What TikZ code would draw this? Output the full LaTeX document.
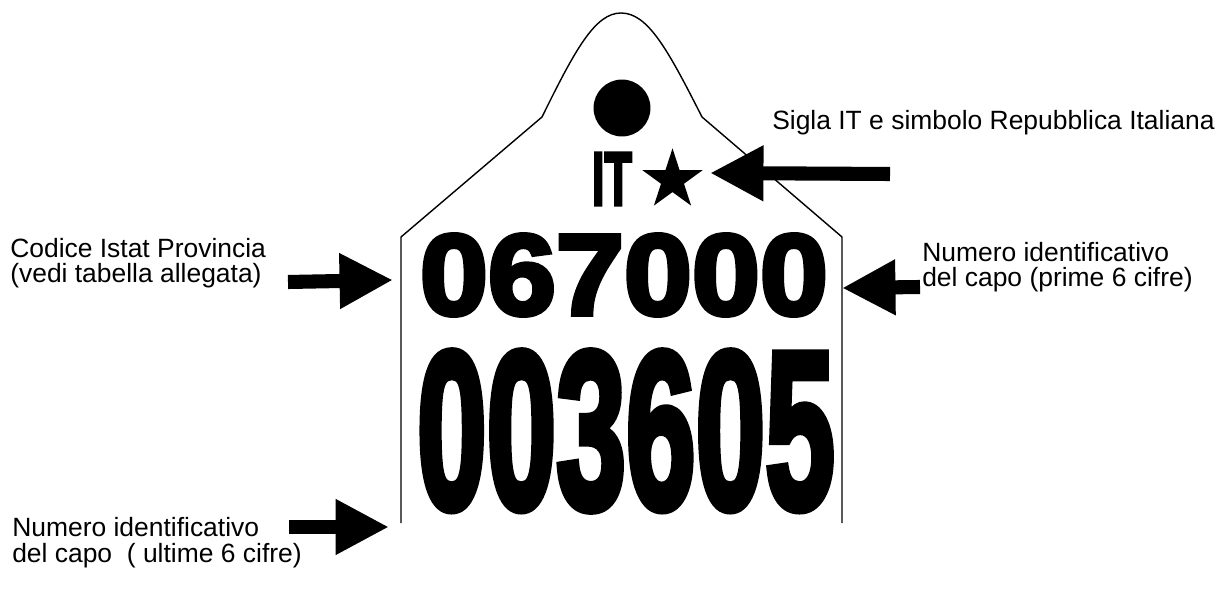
\documentclass[tikz,border=0pt]{standalone}
\usepackage{fontspec}
\setmainfont{Liberation Sans}
\newfontfamily\tagfont[FakeBold=4]{Liberation Sans}
\usetikzlibrary{arrows.meta,shapes.geometric}

\begin{document}
\begin{tikzpicture}[
        x=0.025cm, y=-0.025cm,
        didascalia/.style={anchor=base west, inner sep=0pt, align=left, font=\fontsize{18.8}{17.8}\selectfont},
        cifre/.style={inner sep=0pt},
        bigarrow/.style={line width=10pt, -{Triangle[length=38pt,width=37pt]}},
        tagline/.style={line width=1pt, line join=round}
    ]
    \useasboundingbox (0,0) rectangle (1216,609);

    \draw[tagline] (401,523) -- (401,237) -- (542,117)
        .. controls (575,50) and (595,13) .. (621,13)
        .. controls (648,13) and (668,50) .. (702,117) -- (842,237) -- (842,523);

    \node[circle, fill, minimum size=40.5pt, inner sep=0pt] (foro) at (622,108) {};
    \node[cifre] (sigla) at (612,179) {\resizebox{28.5pt}{37pt}{\tagfont\bfseries IT}};
    \node[star, star points=5, star point ratio=2.618, minimum size=45pt, inner sep=0pt, fill] (stella) at (672.5,180) {};
    \node[cifre] (prime) at (624,275) {\resizebox{290pt}{57pt}{\tagfont\bfseries 067000}};
    \node[cifre] (ultime) at (626,431) {\resizebox{297pt}{111pt}{\tagfont\bfseries 003605}};

    \node[didascalia] (notasigla) at (772,130) {Sigla IT e simbolo Repubblica Italiana};
    \node[didascalia] (notacodice) at (10,283) {Codice Istat Provincia\\(vedi tabella allegata)};
    \node[didascalia] (notaprime) at (922,287) {Numero identificativo\\del capo (prime 6 cifre)};
    \node[didascalia] (notaultime) at (12,562) {Numero identificativo\\del capo \ ( ultime 6 cifre)};

    \coordinate (codasigla) at (890,174);
    \coordinate (puntasigla) at (710,173);
    \coordinate (codacodice) at (288,282);
    \coordinate (puntacodice) at (393,280);
    \coordinate (codaprime) at (920,287);
    \coordinate (puntaprime) at (842,288);
    \coordinate (codaultime) at (289,527);
    \coordinate (puntaultime) at (389,527);

    \draw[bigarrow] (codasigla) -- (puntasigla);
    \draw[bigarrow] (codacodice) -- (puntacodice);
    \draw[bigarrow] (codaprime) -- (puntaprime);
    \draw[bigarrow] (codaultime) -- (puntaultime);
\end{tikzpicture}
\end{document}
